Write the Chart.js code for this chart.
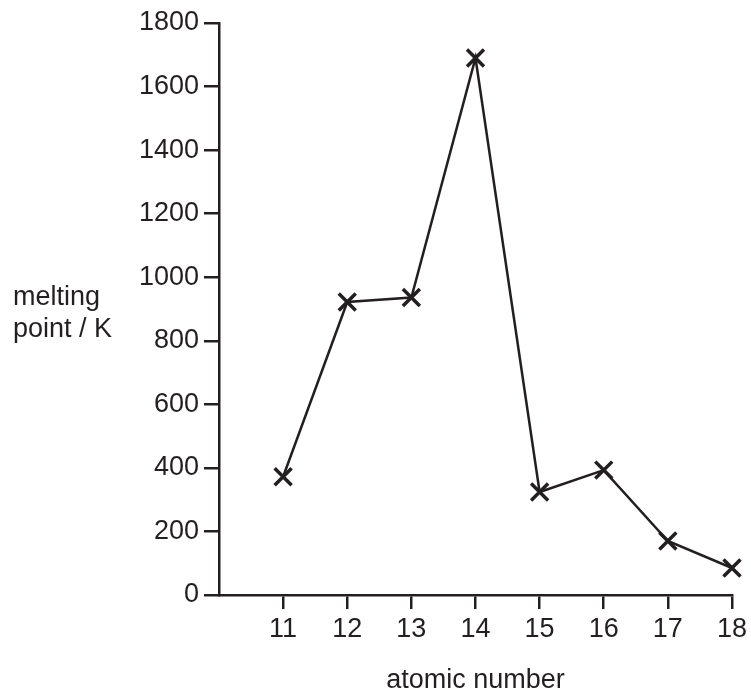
<!DOCTYPE html>
<html>
<head>
<meta charset="utf-8">
<script src="https://cdn.jsdelivr.net/npm/chart.js@4/dist/chart.umd.min.js"></script>
<style>
  html, body { margin: 0; padding: 0; background: #ffffff; }
  #wrap { position: relative; width: 751px; height: 691px; }
</style>
</head>
<body>
<div id="wrap"><canvas id="c" width="751" height="691"></canvas></div>
<script>
// ---- data ----
const atomicNumbers = [11, 12, 13, 14, 15, 16, 17, 18];
const meltingPoints = [372, 922, 936, 1690, 324, 393, 170, 85];
const xTickValues = [11, 12, 13, 14, 15, 16, 17, 18];
const yTickValues = [0, 200, 400, 600, 800, 1000, 1200, 1400, 1600, 1800];
const xTitle = 'atomic number';
const yTitleLines = ['melting', 'point / K'];

const INK = '#231f20';
const FONT = '"Liberation Sans", Arial, Helvetica, sans-serif';
const FS = 27;

const points = atomicNumbers.map((x, i) => ({ x: x, y: meltingPoints[i] }));

const yTitlePlugin = {
  id: 'yTitle',
  afterDraw(chart) {
    const ctx = chart.ctx;
    ctx.save();
    ctx.fillStyle = INK;
    ctx.font = FS + 'px ' + FONT;
    ctx.textAlign = 'left';
    ctx.textBaseline = 'alphabetic';
    ctx.fillText(yTitleLines[0], 13, 305);
    ctx.fillText(yTitleLines[1], 13, 337);
    ctx.restore();
  }
};

new Chart(document.getElementById('c'), {
  type: 'line',
  data: {
    datasets: [{
      data: points,
      borderColor: INK,
      borderWidth: 2.5,
      pointStyle: 'crossRot',
      pointRadius: 12,
      pointBorderWidth: 3.5,
      pointBorderColor: INK,
      pointBackgroundColor: INK,
      pointHoverRadius: 12,
      tension: 0,
      fill: false,
      clip: false
    }]
  },
  options: {
    responsive: false,
    animation: false,
    devicePixelRatio: 1,
    layout: { padding: { left: 0, right: 17, top: 23, bottom: 0 } },
    plugins: { legend: { display: false }, tooltip: { enabled: false } },
    scales: {
      x: {
        type: 'linear',
        min: 10,
        max: 18,
        afterFit(scale) { scale.height = 96; },
        afterBuildTicks(scale) {
          scale.ticks = [10].concat(xTickValues).map(v => ({ value: v }));
        },
        ticks: {
          color: INK,
          font: { family: FONT, size: FS },
          padding: 4,
          maxRotation: 0,
          autoSkip: false,
          callback: (v) => (xTickValues.includes(v) ? String(v) : '')
        },
        grid: {
          drawOnChartArea: false,
          drawTicks: true,
          tickLength: 14,
          lineWidth: 2.5,
          color: (ctx) => (ctx.tick && ctx.tick.value === 10 ? 'rgba(0,0,0,0)' : INK)
        },
        border: { display: true, color: INK, width: 2.5 },
        title: {
          display: true,
          text: xTitle,
          color: INK,
          font: { family: FONT, size: FS, lineHeight: 0.75 },
          padding: { top: 0, bottom: 0 }
        }
      },
      y: {
        type: 'linear',
        min: 0,
        max: 1800,
        afterFit(scale) { scale.width = 219; },
        afterBuildTicks(scale) {
          scale.ticks = yTickValues.map(v => ({ value: v }));
        },
        ticks: {
          color: INK,
          font: { family: FONT, size: FS },
          padding: 5,
          autoSkip: false,
          callback: (v) => String(v)
        },
        grid: {
          drawOnChartArea: false,
          drawTicks: true,
          tickLength: 15,
          lineWidth: 2.5,
          color: INK
        },
        border: { display: true, color: INK, width: 2.5 }
      }
    }
  },
  plugins: [yTitlePlugin]
});
</script>
</body>
</html>
